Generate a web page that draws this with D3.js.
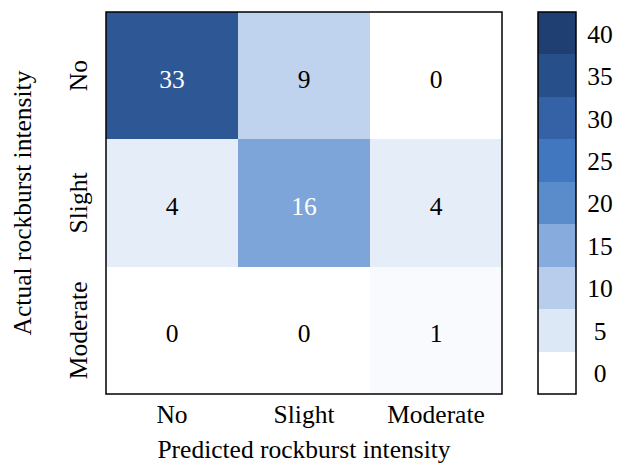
<!DOCTYPE html>
<html>
<head>
<meta charset="utf-8">
<script src="https://cdn.jsdelivr.net/npm/d3@7"></script>
<style>
  html, body { margin: 0; padding: 0; background: #ffffff; }
  svg text { font-family: "Liberation Serif", "Times New Roman", serif; fill: #000; }
</style>
</head>
<body>
<svg id="chart" width="627" height="467"></svg>
<script>
// Confusion matrix of rockburst intensity classification
const classes = ["No", "Slight", "Moderate"];
// rows = actual class, columns = predicted class
const rowNo       = [33, 9, 0];
const rowSlight   = [4, 16, 4];
const rowModerate = [0, 0, 1];
const matrix = [rowNo, rowSlight, rowModerate];

// colour bar ticks (each band is centred on its tick value)
const colorTicks = [0, 5, 10, 15, 20, 25, 30, 35, 40];
const bandColors = ["#ffffff", "#dde8f6", "#b8cdec", "#86abdc", "#5a8ccb",
                    "#4177be", "#3562a6", "#27508a", "#1f3f72"];

const xLabel = "Predicted rockburst intensity";
const yLabel = "Actual rockburst intensity";

const svg = d3.select("#chart");
const fontSize = 25.5;

// plot area
const plot = { left: 106, right: 502, top: 12, bottom: 394 };
const cbar = { left: 538, right: 576 };

const x = d3.scaleBand().domain(classes).range([plot.left, plot.right]);
const y = d3.scaleBand().domain(classes).range([plot.top, plot.bottom]);

const color = d3.scaleLinear()
  .domain(colorTicks)
  .range(bandColors)
  .interpolate(d3.interpolateRgb)
  .clamp(true);

// text colour chosen from the luminance of the cell fill
function luminance(c) {
  const rgb = d3.rgb(c);
  const f = v => { v /= 255; return v <= 0.03928 ? v / 12.92 : Math.pow((v + 0.055) / 1.055, 2.4); };
  return 0.2126 * f(rgb.r) + 0.7152 * f(rgb.g) + 0.0722 * f(rgb.b);
}

const cells = [];
matrix.forEach((row, i) => row.forEach((v, j) => cells.push({ actual: classes[i], predicted: classes[j], value: v })));

const g = svg.append("g");

g.selectAll("rect.cell")
  .data(cells)
  .join("rect")
  .attr("class", "cell")
  .attr("x", d => x(d.predicted))
  .attr("y", d => y(d.actual))
  .attr("width", x.bandwidth())
  .attr("height", y.bandwidth())
  .attr("fill", d => color(d.value))
  .attr("shape-rendering", "crispEdges");

g.selectAll("text.val")
  .data(cells)
  .join("text")
  .attr("class", "val")
  .attr("x", d => x(d.predicted) + x.bandwidth() / 2)
  .attr("y", d => y(d.actual) + y.bandwidth() / 2 + 12)
  .attr("text-anchor", "middle")
  .style("font-size", fontSize + "px")
  .style("fill", d => luminance(color(d.value)) < 0.408 ? "#ffffff" : "#000000")
  .text(d => d.value);

// frame around the matrix
g.append("rect")
  .attr("x", plot.left).attr("y", plot.top)
  .attr("width", plot.right - plot.left).attr("height", plot.bottom - plot.top)
  .attr("fill", "none").attr("stroke", "#000").attr("stroke-width", 1.5);

// x tick labels
const xAxis = d3.axisBottom(x).tickSize(0).tickPadding(0);
const xg = svg.append("g").attr("transform", `translate(0,${plot.bottom})`).call(xAxis);
xg.select(".domain").remove();
xg.selectAll("text")
  .attr("y", 29).attr("dy", null)
  .style("font-size", fontSize + "px")
  .style("font-family", "Liberation Serif, serif");

// y tick labels, rotated
const yAxis = d3.axisLeft(y).tickSize(0).tickPadding(0);
const yg = svg.append("g").attr("transform", `translate(${plot.left},0)`).call(yAxis);
yg.select(".domain").remove();
yg.selectAll(".tick text")
  .attr("x", null).attr("dy", null)
  .attr("text-anchor", "middle")
  .attr("transform", "translate(-19,0) rotate(-90)")
  .style("font-size", fontSize + "px")
  .style("font-family", "Liberation Serif, serif");

// axis titles
svg.append("text")
  .attr("x", (plot.left + plot.right) / 2)
  .attr("y", 458)
  .attr("text-anchor", "middle")
  .style("font-size", fontSize + "px")
  .text(xLabel);

svg.append("text")
  .attr("transform", `translate(31,${(plot.top + plot.bottom) / 2}) rotate(-90)`)
  .attr("text-anchor", "middle")
  .style("font-size", fontSize + "px")
  .text(yLabel);

// colour bar
const step = colorTicks[1] - colorTicks[0];
const cy = d3.scaleLinear()
  .domain([colorTicks[0] - step / 2, colorTicks[colorTicks.length - 1] + step / 2])
  .range([plot.bottom, plot.top]);

const cb = svg.append("g");
cb.selectAll("rect.band")
  .data(colorTicks)
  .join("rect")
  .attr("class", "band")
  .attr("x", cbar.left)
  .attr("y", d => cy(d + step / 2))
  .attr("width", cbar.right - cbar.left)
  .attr("height", d => cy(d - step / 2) - cy(d + step / 2))
  .attr("fill", d => color(d))
  .attr("shape-rendering", "crispEdges");

cb.append("rect")
  .attr("x", cbar.left).attr("y", plot.top)
  .attr("width", cbar.right - cbar.left).attr("height", plot.bottom - plot.top)
  .attr("fill", "none").attr("stroke", "#000").attr("stroke-width", 1.5);

const cAxis = d3.axisRight(cy).tickValues(colorTicks).tickSize(0).tickPadding(0);
const cg = svg.append("g").attr("transform", `translate(${cbar.right},0)`).call(cAxis);
cg.select(".domain").remove();
cg.selectAll(".tick text")
  .attr("x", 24).attr("dy", "0.35em")
  .attr("text-anchor", "middle")
  .style("font-size", fontSize + "px")
  .style("font-family", "Liberation Serif, serif");
</script>
</body>
</html>
